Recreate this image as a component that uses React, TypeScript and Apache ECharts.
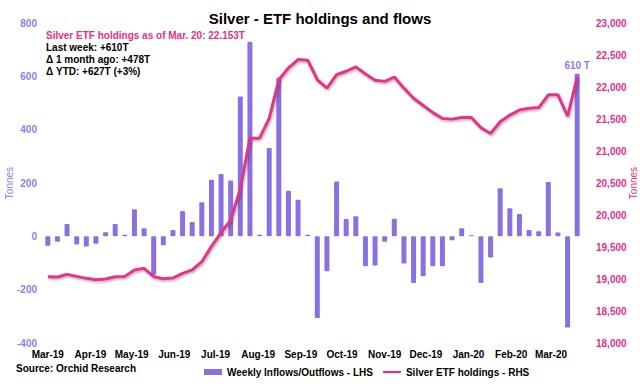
import React, { useEffect, useRef } from "react";
import * as echarts from "echarts";

// ---- data ----
const firstWeek = [2019, 3, 1]; // Friday, 1 Mar 2019 (year, month, day)
const weeklyFlows = [
  -35, -20, 46, -31, -38, -28, 15, 46, 6, 102, 30, -144, -33, 24, 95, 54,
  128, 212, 234, 209, 524, 730, 6, 331, 595, 171, 137, 6, -306, -131, 206, 65,
  75, -112, -109, -20, 66, -102, -175, -150, -112, -112, -15, 30, 4, -175, -79, 180,
  105, 84, 24, 19, 204, 14, -342, 610,
];
const holdings = [
  19036, 19031, 19072, 19041, 19010, 18989, 19000, 19036, 19041, 19142, 19167, 19036, 19005, 19016, 19089, 19142,
  19270, 19510, 19725, 19919, 20410, 21200, 21200, 21509, 22113, 22298, 22429, 22419, 22113, 21982, 22192, 22246,
  22314, 22203, 22104, 22088, 22156, 21982, 21825, 21710, 21600, 21509, 21498, 21525, 21525, 21363, 21273, 21457,
  21561, 21640, 21667, 21678, 21877, 21877, 21543, 22153,
];
const monthTicks = [
  [2019, 3], [2019, 4], [2019, 5], [2019, 6], [2019, 7], [2019, 8], [2019, 9],
  [2019, 10], [2019, 11], [2019, 12], [2020, 1], [2020, 2], [2020, 3],
];
const monthLabels = [
  "Mar-19", "Apr-19", "May-19", "Jun-19", "Jul-19", "Aug-19", "Sep-19",
  "Oct-19", "Nov-19", "Dec-19", "Jan-20", "Feb-20", "Mar-20",
];
const leftAxis = { min: -400, max: 800, interval: 200 };
const rightAxis = { min: 18000, max: 23000, interval: 500 };
const titleText = "Silver - ETF holdings and flows";
const noteLines = [
  "Silver ETF holdings as of Mar. 20: 22.153T",
  "Last week: +610T",
  "\u0394 1 month ago: +478T",
  "\u0394 YTD: +627T (+3%)",
];
const sourceText = "Source: Orchid Research";
const barName = "Weekly Inflows/Outflows - LHS";
const lineName = "Silver ETF holdings - RHS";

const PURPLE = "#8A70E1";
const PURPLE_TXT = "#8E7EEA";
const PINK = "#E5308A";
const FONT = "'Liberation Sans', Arial, sans-serif";
const DAY = 86400000;

const t0 = new Date(firstWeek[0], firstWeek[1] - 1, firstWeek[2]).getTime();
function dayOf(y: number, m: number, d: number) {
  return Math.round((new Date(y, m - 1, d).getTime() - t0) / DAY);
}
function weekLabel(i: number) {
  const d = new Date(firstWeek[0], firstWeek[1] - 1, firstWeek[2] + 7 * i);
  return `${d.getFullYear()}-${d.getMonth() + 1}-${d.getDate()}`;
}

export default function App() {
  const ref = useRef<HTMLDivElement>(null);
  useEffect(() => {
    if (!ref.current) return;
    const chart = echarts.init(ref.current, null, { renderer: "svg" });
    const n = weeklyFlows.length;
    const weeks = weeklyFlows.map((_, i) => weekLabel(i));
    const tickDays = monthTicks.map(([y, m]) => dayOf(y, m, 1));
    const barData = weeklyFlows.map((v, i) => {
      const item: any = { value: v };
      if (i === n - 1) {
        item.label = {
          show: true,
          position: "top",
          distance: 3,
          formatter: () => `${v} T`,
          color: PURPLE_TXT,
          fontFamily: FONT,
          fontSize: 10,
          fontWeight: "bold",
        };
      }
      return item;
    });

    chart.setOption({
      animation: false,
      backgroundColor: "#fff",
      title: {
        text: titleText,
        left: "center",
        top: 6,
        textStyle: { fontFamily: FONT, fontSize: 15, fontWeight: "bold", color: "#000" },
      },
      grid: { left: 43, right: 58, top: 23, bottom: 41, containLabel: false, outerBoundsMode: "none" },
      legend: {
        left: 199,
        top: 362,
        itemWidth: 18,
        itemHeight: 6,
        itemGap: 10,
        textStyle: { fontFamily: FONT, fontSize: 10, fontWeight: "bold", color: "#000" },
        data: [
          { name: barName, icon: "rect" },
          { name: lineName, icon: "path://M0,0L18,0L18,2.2L0,2.2Z" },
        ],
      },
      xAxis: [
        {
          type: "category",
          data: weeks,
          boundaryGap: true,
          axisLine: { show: false },
          axisTick: { show: false },
          axisLabel: { show: false },
          splitLine: { show: false },
        },
        {
          type: "value",
          position: "bottom",
          min: -3.5,
          max: 7 * (n - 1) + 3.5,
          axisLine: { show: false },
          axisTick: { show: false },
          splitLine: { show: false },
          axisLabel: {
            customValues: tickDays,
            margin: 6,
            color: "#000",
            fontFamily: FONT,
            fontSize: 10,
            fontWeight: "bold",
            hideOverlap: false,
            showMinLabel: true,
            showMaxLabel: true,
            formatter: (val: number) => {
              const k = tickDays.indexOf(Math.round(val));
              return k >= 0 ? monthLabels[k] : "";
            },
          },
        },
      ],
      yAxis: [
        {
          type: "value",
          min: leftAxis.min,
          max: leftAxis.max,
          interval: leftAxis.interval,
          name: "Tonnes",
          nameLocation: "middle",
          nameRotate: 90,
          nameGap: 29,
          nameMoveOverlap: false,
          nameTextStyle: { color: PURPLE_TXT, fontFamily: FONT, fontSize: 10 },
          axisLine: { show: false },
          axisTick: { show: false },
          splitLine: { show: false },
          axisLabel: { color: PURPLE_TXT, fontFamily: FONT, fontSize: 10, fontWeight: "bold", margin: 6 },
        },
        {
          type: "value",
          min: rightAxis.min,
          max: rightAxis.max,
          interval: rightAxis.interval,
          name: "Tonnes",
          nameLocation: "middle",
          nameRotate: 90,
          nameGap: 46,
          nameMoveOverlap: false,
          nameTextStyle: { color: PINK, fontFamily: FONT, fontSize: 10 },
          axisLine: { show: false },
          axisTick: { show: false },
          splitLine: { show: false },
          axisLabel: {
            color: PINK,
            fontFamily: FONT,
            fontSize: 10,
            fontWeight: "bold",
            margin: 14,
            formatter: (v: number) => v.toLocaleString("en-US"),
          },
        },
      ],
      series: [
        {
          name: barName,
          type: "bar",
          xAxisIndex: 0,
          yAxisIndex: 0,
          barWidth: 5,
          itemStyle: { color: PURPLE, borderRadius: 1 },
          data: barData,
        },
        {
          name: lineName,
          type: "line",
          xAxisIndex: 0,
          yAxisIndex: 1,
          symbol: "none",
          itemStyle: { color: PINK },
          lineStyle: {
            color: PINK,
            width: 3,
            shadowColor: "rgba(0,0,0,0.3)",
            shadowBlur: 2,
            shadowOffsetX: 1,
            shadowOffsetY: 1.5,
          },
          data: holdings,
          z: 3,
        },
      ],
      graphic: [
        ...noteLines.map((t, k) => ({
          type: "text",
          left: 46,
          top: 30 + k * 12.2,
          style: {
            text: t,
            fill: k === 0 ? PINK : "#000",
            font: `bold 10px ${FONT}`,
          },
        })),
        {
          type: "text",
          left: 16,
          top: 363,
          style: { text: sourceText, fill: "#000", font: `bold 10px ${FONT}` },
        },
      ],
    });
    return () => chart.dispose();
  }, []);
  return (
    <div
      ref={ref}
      style={{ position: "absolute", left: 0, top: 0, width: 640, height: 384, background: "#fff" }}
    />
  );
}
